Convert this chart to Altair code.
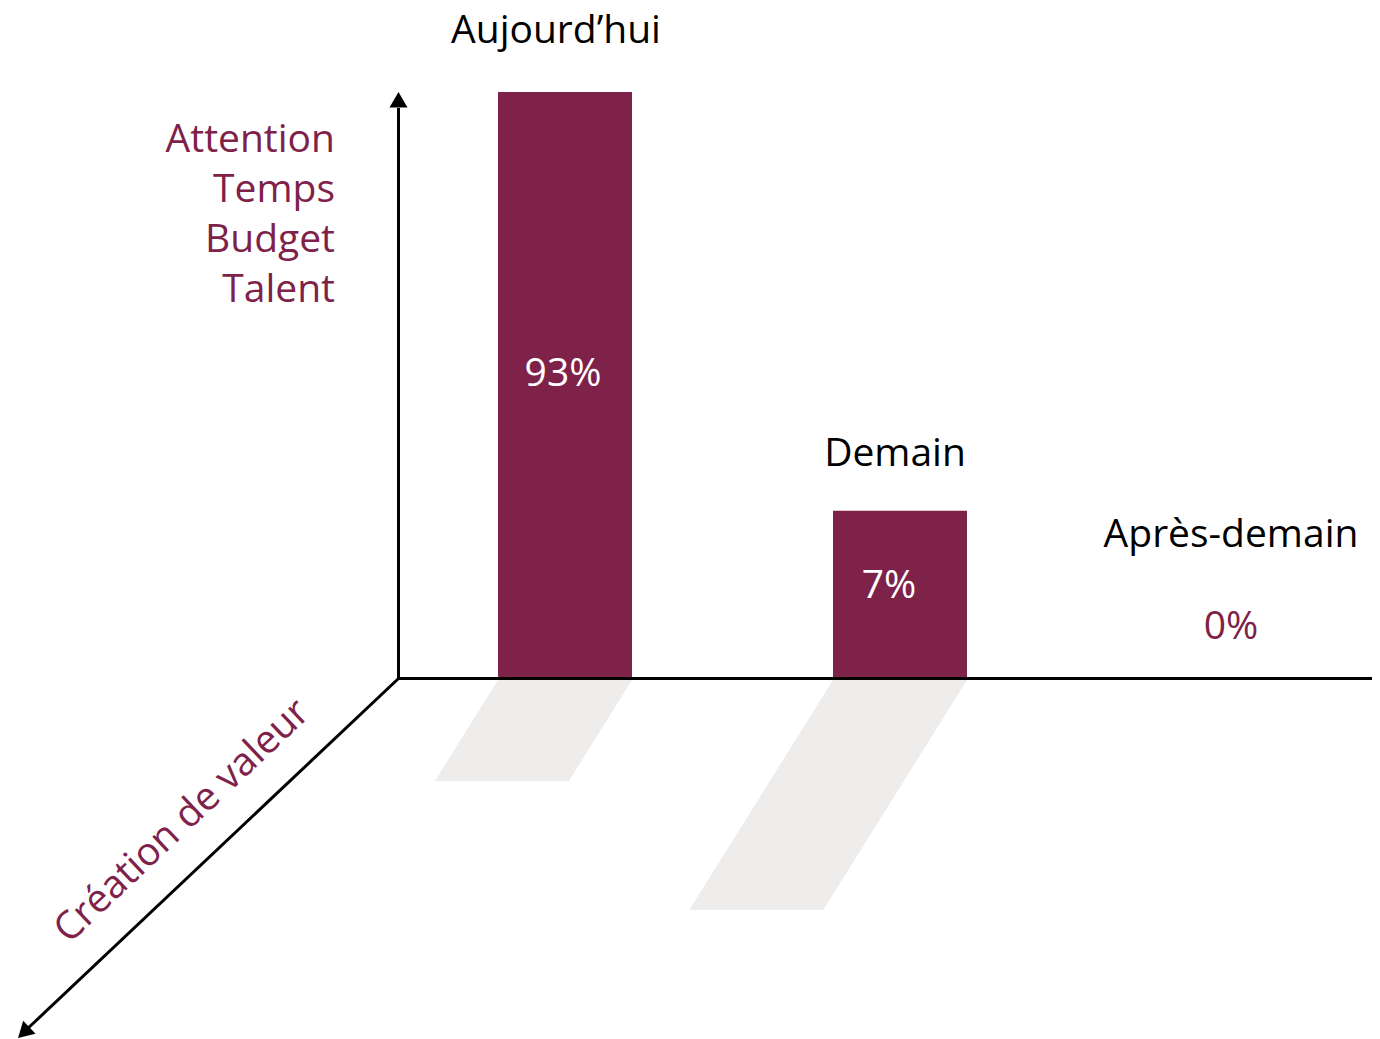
import altair as alt
import pandas as pd

# ---- data ----
categories = ["Aujourd’hui", "Demain", "Après-demain"]
shares = [93, 7, 0]
share_labels = ["93%", "7%", "0%"]
creation = [44, 100, 0]          # relative "value creation" depth (shadow length)
side_labels = ["Attention", "Temps", "Budget", "Talent"]
depth_axis_label = "Création de valeur"

# ---- styles / layout ----
PURPLE = "#7E2249"
SHADOW = "#EEEDEB"
FONT = "Open Sans"
FS = 39
W, H = 1364, 1031
OX, OY = 390.5, 670.5
STEP, BAR_W, FIRST_LEFT = 335, 134, 490
PX_PER_UNIT, SHEAR = 2.3, 0.625

one = alt.Data(values=[{"k": 1}])

# bars
bars_df = pd.DataFrame({"cat": categories, "share": shares})
bar_layer = alt.Chart(bars_df).mark_bar(color=PURPLE).encode(
    x=alt.X("cat:N", sort=categories, axis=None,
            scale=alt.Scale(range=[389.5, 1394.5], paddingInner=0.6, paddingOuter=0.3)),
    y=alt.Y("share:Q", axis=None,
            scale=alt.Scale(type="pow", exponent=0.485, domain=[0, 93], range=[670, 84], nice=False)),
)

# shadows (parallelograms whose length = value creation)
rows = []
for i, (c, v) in enumerate(zip(categories, creation)):
    if v <= 0:
        continue
    d = v * PX_PER_UNIT
    left = FIRST_LEFT + STEP * i
    right = left + BAR_W
    rows.append({"cat": c, "sy": OY + 1.5, "xl": left, "xr": right})
    rows.append({"cat": c, "sy": OY + 1.5 + d, "xl": left - SHEAR * d, "xr": right - SHEAR * d})
shadow_df = pd.DataFrame(rows)
shadow_layer = alt.Chart(shadow_df).mark_area(orient="horizontal", color=SHADOW, opacity=1).encode(
    y=alt.Y("sy:Q", axis=None, scale=alt.Scale(domain=[0, H], range=[0, H], nice=False, zero=False)),
    x=alt.X("xl:Q", axis=None, scale=alt.Scale(domain=[0, W], range=[0, W], nice=False, zero=False)),
    x2="xr:Q",
    detail="cat:N",
)

# axes
def rule(x1, y1, x2, y2):
    return alt.Chart(one).mark_rule(color="black", strokeWidth=3).encode(
        x=alt.value(x1), y=alt.value(y1), x2=alt.value(x2), y2=alt.value(y2))

def head(x, y, angle):
    return alt.Chart(one).mark_point(shape="triangle-up", filled=True, size=324,
                                     color="black", opacity=1, angle=angle).encode(
        x=alt.value(x), y=alt.value(y))

v_axis = rule(OX, OY + 1.5, OX, 100)
h_axis = rule(OX - 1.5, OY, W, OY)
d_axis = rule(OX, OY, 16.5, 1023.5)
v_head = head(OX, 91.8, 0)
d_head = head(15.7, 1024.6, 226.6)

def text(s, x, y, color="black", align="center", angle=0, baseline="alphabetic", **kw):
    return alt.Chart(one).mark_text(text=s, font=FONT, fontSize=FS, color=color, align=align,
                                    baseline=baseline, angle=angle, **kw).encode(
        x=alt.value(x), y=alt.value(y))

texts = [
    text(categories[0], 548, 35),
    text(categories[1], 887, 458),
    text(categories[2], 1223, 539),
    text(share_labels[0], 555, 378, color="white"),
    text(share_labels[1], 881, 590, color="white"),
    text(share_labels[2], 1223, 631, color=PURPLE),
    text("\n".join(side_labels), 327, 144, color=PURPLE, align="right", lineBreak="\n", lineHeight=50),
    text(depth_axis_label, 174, 813, color=PURPLE, angle=316.6, baseline="middle"),
]

chart = alt.layer(
    shadow_layer, bar_layer, v_axis, h_axis, d_axis, v_head, d_head, *texts
).resolve_scale(x="independent", y="independent").properties(
    width=W, height=H, padding=0, autosize=alt.AutoSizeParams(type="none")
).configure_view(stroke=None)

chart.save("out.html", embed_options={"renderer": "svg", "actions": False})
